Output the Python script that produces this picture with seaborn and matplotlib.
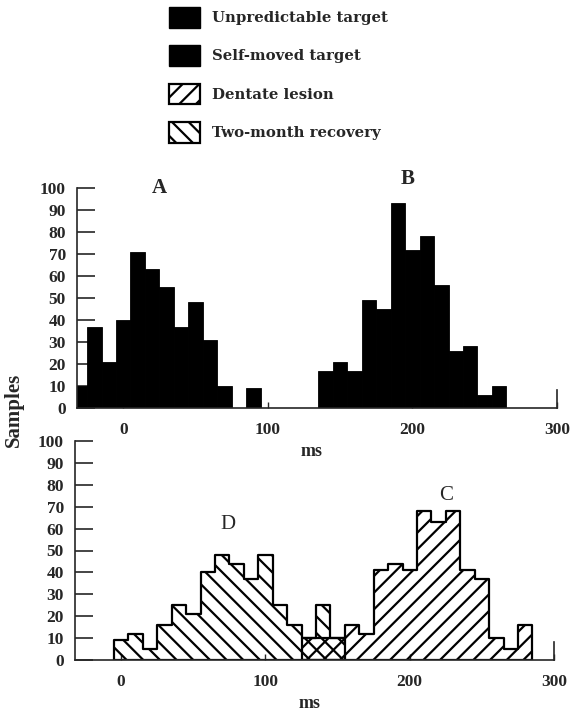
import matplotlib
matplotlib.use("Agg")
import matplotlib.pyplot as plt
from matplotlib.patches import Patch
import seaborn as sns

# Histogram bins are 10 ms wide, listed by bin centre (ms)
# Upper panel: A = unpredictable target, B = self-moved target
a_ms = [-30, -20, -10, 0, 10, 20, 30, 40, 50, 60, 70, 80, 90]
a_samples = [10, 37, 21, 40, 71, 63, 55, 37, 48, 31, 10, 0, 9]
b_ms = [140, 150, 160, 170, 180, 190, 200, 210, 220, 230, 240, 250, 260]
b_samples = [17, 21, 17, 49, 45, 93, 72, 78, 56, 26, 28, 6, 10]

# Lower panel: D = two-month recovery, C = dentate lesion
d_ms = [0, 10, 20, 30, 40, 50, 60, 70, 80, 90, 100, 110, 120, 130, 140, 150]
d_samples = [9, 12, 5, 16, 25, 21, 40, 48, 44, 37, 48, 25, 16, 10, 25, 10]
c_ms = [130, 140, 150, 160, 170, 180, 190, 200, 210, 220, 230, 240, 250, 260, 270, 280]
c_samples = [10, 10, 10, 16, 12, 41, 44, 41, 68, 63, 68, 41, 37, 10, 5, 16]

x_ticks = [0, 100, 200, 300]
y_ticks = [0, 10, 20, 30, 40, 50, 60, 70, 80, 90, 100]
legend_labels = ["Unpredictable target", "Self-moved target",
                 "Dentate lesion", "Two-month recovery"]

sns.set_style("ticks")
plt.rcParams["font.family"] = ["Liberation Serif", "DejaVu Serif"]
plt.rcParams["hatch.linewidth"] = 1.6
plt.rcParams["axes.linewidth"] = 1.2

fig = plt.figure(figsize=(5.76, 7.14), dpi=100)
ax_top = fig.add_axes([77 / 576, 1 - 408 / 714, 480 / 576, 220 / 714])
ax_bot = fig.add_axes([75 / 576, 1 - 660 / 714, 479 / 576, 219 / 714])


def solid_hist(ax, centres, counts):
    sns.histplot(x=centres, weights=counts, binwidth=10,
                 binrange=(centres[0] - 5, centres[-1] + 5),
                 element="bars", color="black", alpha=1,
                 edgecolor="black", linewidth=0.6, ax=ax)


def hatched_hist(ax, centres, counts, hatch):
    sns.histplot(x=centres, weights=counts, binwidth=10,
                 binrange=(centres[0] - 5, centres[-1] + 5),
                 element="step", fill=True, alpha=1, color="black",
                 facecolor="none", edgecolor="black", hatch=hatch,
                 linewidth=1.6, ax=ax)


solid_hist(ax_top, a_ms, a_samples)
solid_hist(ax_top, b_ms, b_samples)
hatched_hist(ax_bot, d_ms, d_samples, "\\\\")
hatched_hist(ax_bot, c_ms, c_samples, "//")

for ax in (ax_top, ax_bot):
    ax.set_facecolor("none")
    ax.set_xlim(-32, 300)
    ax.set_ylim(0, 100)
    ax.set_xticks(x_ticks)
    ax.set_xticklabels([str(t) for t in x_ticks], fontsize=12.5, fontweight="bold")
    ax.set_yticks(y_ticks)
    ax.set_yticklabels([str(t) for t in y_ticks], fontsize=12.5, fontweight="bold")
    ax.tick_params(axis="y", direction="in", length=13, width=1.2, pad=8)
    ax.tick_params(axis="x", direction="in", length=4, width=1.0, pad=10)
    ax.spines["top"].set_visible(False)
    ax.spines["right"].set_bounds(0, 8)
    ax.set_ylabel("")
    ax.set_xlabel("")

# axis titles placed in figure pixels
fig.text(312 / 576, 1 - 452 / 714, "ms", ha="center", va="center", fontsize=13, fontweight="bold")
fig.text(310 / 576, 1 - 703 / 714, "ms", ha="center", va="center", fontsize=13, fontweight="bold")
fig.text(14 / 576, 1 - 410 / 714, "Samples", rotation=90, ha="center", va="center",
         fontsize=15, fontweight="bold")

ax_top.text(25, 100, "A", fontsize=15, fontweight="bold", ha="center", va="center", clip_on=False)
ax_top.text(197, 104, "B", fontsize=15, fontweight="bold", ha="center", va="center", clip_on=False)
ax_bot.text(74, 62, "D", fontsize=15, ha="center", va="center")
ax_bot.text(225, 75, "C", fontsize=15, ha="center", va="center")

handles = [
    Patch(facecolor="black", edgecolor="black"),
    Patch(facecolor="black", edgecolor="black"),
    Patch(facecolor="white", edgecolor="black", hatch="//", linewidth=1.6),
    Patch(facecolor="white", edgecolor="black", hatch="\\\\", linewidth=1.6),
]
fig.legend(handles, legend_labels, loc="upper left",
           bbox_to_anchor=(169 / 576, 1 - 7 / 714), frameon=False,
           prop={"family": "DejaVu Serif", "weight": "bold", "size": 10.7},
           handlelength=2.1, handleheight=1.75, labelspacing=1.2,
           handletextpad=0.8, borderpad=0, borderaxespad=0)

fig.savefig("out.png", dpi=100)
